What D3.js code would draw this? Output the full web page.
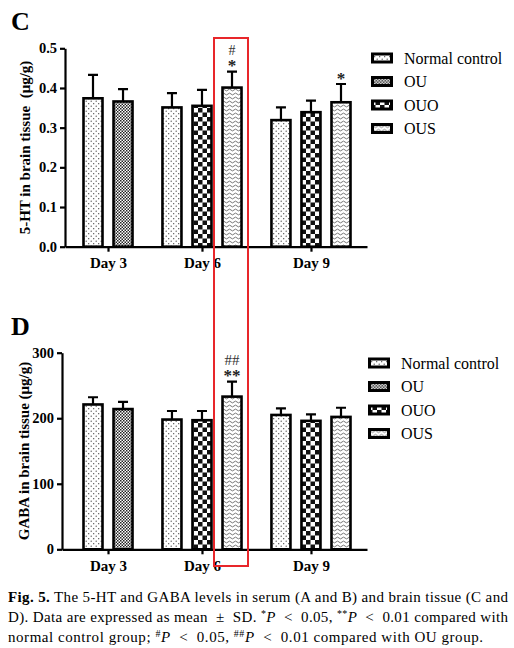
<!DOCTYPE html>
<html lang="en">
<head>
<meta charset="UTF-8">
<title>Fig. 5</title>
<script src="https://cdn.jsdelivr.net/npm/d3@7"></script>
<style>
  body { margin: 0; background: #fff; }
  text { font-family: "Liberation Serif", "Times New Roman", serif; }
</style>
</head>
<body>
<svg width="514" height="648"></svg>
<script>
// data
var groups    = ["Normal control", "OU", "OUO", "OUS"];
var days      = ["Day 3", "Day 6", "Day 9"];
var barDays   = ["Day 3", "Day 3", "Day 6", "Day 6", "Day 6", "Day 9", "Day 9", "Day 9"];
var barGroups = ["Normal control", "OU", "Normal control", "OUO", "OUS", "Normal control", "OUO", "OUS"];

var htMean = [0.374, 0.366, 0.351, 0.355, 0.401, 0.319, 0.339, 0.364];
var htSD   = [0.059, 0.031, 0.036, 0.040, 0.040, 0.032, 0.029, 0.046];
var htStar = ["", "", "", "", "*", "", "", "*"];
var htHash = ["", "", "", "", "#", "", "", ""];
var htTicks = [0, 0.1, 0.2, 0.3, 0.4, 0.5];

var gabaMean = [221, 214, 198, 197, 233, 205, 196, 202];
var gabaSD   = [11, 11, 13, 14, 23, 10, 10, 14];
var gabaStar = ["", "", "", "", "**", "", "", ""];
var gabaHash = ["", "", "", "", "##", "", "", ""];
var gabaTicks = [0, 100, 200, 300];

var svg = d3.select("svg");
var defs = svg.append("defs");

// fill patterns
var pNC = defs.append("pattern").attr("id", "pNC").attr("patternUnits", "userSpaceOnUse")
    .attr("width", 5).attr("height", 5);
pNC.append("rect").attr("width", 5).attr("height", 5).attr("fill", "#fff");
pNC.append("circle").attr("cx", 1.2).attr("cy", 1.2).attr("r", 0.65).attr("fill", "#444");
pNC.append("circle").attr("cx", 3.7).attr("cy", 3.7).attr("r", 0.65).attr("fill", "#444");

var pOU = defs.append("pattern").attr("id", "pOU").attr("patternUnits", "userSpaceOnUse")
    .attr("width", 3).attr("height", 3);
pOU.append("rect").attr("width", 3).attr("height", 3).attr("fill", "#fff");
pOU.append("rect").attr("width", 1.5).attr("height", 1.5).attr("fill", "#222");
pOU.append("rect").attr("x", 1.5).attr("y", 1.5).attr("width", 1.5).attr("height", 1.5).attr("fill", "#222");

var pOUO = defs.append("pattern").attr("id", "pOUO").attr("patternUnits", "userSpaceOnUse")
    .attr("width", 9).attr("height", 9);
pOUO.append("rect").attr("width", 9).attr("height", 9).attr("fill", "#fff");
pOUO.append("rect").attr("width", 4.5).attr("height", 4.5).attr("fill", "#111");
pOUO.append("rect").attr("x", 4.5).attr("y", 4.5).attr("width", 4.5).attr("height", 4.5).attr("fill", "#111");

var pOUS = defs.append("pattern").attr("id", "pOUS").attr("patternUnits", "userSpaceOnUse")
    .attr("width", 6).attr("height", 4);
pOUS.append("rect").attr("width", 6).attr("height", 4).attr("fill", "#fff");
pOUS.append("path").attr("d", "M0,2 q1.5,-1.8 3,0 t3,0").attr("fill", "none")
    .attr("stroke", "#666").attr("stroke-width", 0.9);

var fillOf = d3.scaleOrdinal().domain(groups).range(["url(#pNC)", "url(#pOU)", "url(#pOUO)", "url(#pOUS)"]);

// slot position of each bar: consecutive inside a day, a gap between days
var gap = 0.63;
var slots = [];
var s = 0;
barDays.forEach(function(d, i) {
    if (i > 0) s += (d === barDays[i - 1]) ? 1 : 1 + gap;
    slots.push(s);
});
var dayCenter = days.map(function(d) {
    var ss = slots.filter(function(v, i) { return barDays[i] === d; });
    return (d3.min(ss) + d3.max(ss)) / 2;
});

var x = d3.scaleLinear().domain([0, slots[slots.length - 1]]).range([93, 341]);
var barW = 19;

function drawChart(cfg) {
    var g = svg.append("g");
    var y = d3.scaleLinear().domain(cfg.domain).range([cfg.bottom, cfg.top]);
    var xa = d3.scaleLinear().domain([x.invert(cfg.left), x.invert(367)]).range([cfg.left, 367]);

    // bars
    g.selectAll(".bar").data(cfg.mean).enter().append("rect")
        .attr("x", function(d, i) { return x(slots[i]) - barW / 2; })
        .attr("y", function(d) { return y(d); })
        .attr("width", barW)
        .attr("height", function(d) { return y(0) - y(d); })
        .attr("fill", function(d, i) { return fillOf(barGroups[i]); })
        .attr("stroke", "#000").attr("stroke-width", 2.6);

    // error bars (upper only)
    g.selectAll(".err").data(cfg.mean).enter().append("path")
        .attr("d", function(d, i) {
            var cx = x(slots[i]), y0 = y(d), y1 = y(d + cfg.sd[i]);
            return "M" + cx + "," + y0 + "V" + y1 + "M" + (cx - 5) + "," + y1 + "H" + (cx + 5);
        })
        .attr("fill", "none").attr("stroke", "#000").attr("stroke-width", 2.2);

    // significance marks
    g.selectAll(".star").data(cfg.mean).enter().append("text")
        .attr("x", function(d, i) { return x(slots[i]); })
        .attr("y", function(d, i) { return y(d + cfg.sd[i]) - 0.5; })
        .attr("text-anchor", "middle").attr("font-size", 17).attr("font-weight", "bold").attr("fill", "#222")
        .text(function(d, i) { return cfg.star[i]; });
    g.selectAll(".hash").data(cfg.mean).enter().append("text")
        .attr("x", function(d, i) { return x(slots[i]); })
        .attr("y", function(d, i) { return y(d + cfg.sd[i]) - 17; })
        .attr("text-anchor", "middle").attr("font-size", cfg.hashSize).attr("fill", "#333")
        .text(function(d, i) { return cfg.hash[i]; });

    // axes
    var yAxis = g.append("g").attr("transform", "translate(" + cfg.left + ",0)")
        .call(d3.axisLeft(y).tickValues(cfg.ticks).tickFormat(cfg.fmt).tickSize(5).tickSizeOuter(0).tickPadding(3));
    var xAxis = g.append("g").attr("transform", "translate(0," + cfg.bottom + ")")
        .call(d3.axisBottom(xa).tickValues(dayCenter).tickFormat(function(d, i) { return days[i]; })
            .tickSize(5).tickSizeOuter(0).tickPadding(5));
    [yAxis, xAxis].forEach(function(a) {
        a.selectAll("path, line").attr("stroke", "#000").attr("stroke-width", 2.2);
        a.selectAll("text").attr("font-family", "Liberation Serif").attr("font-weight", "bold")
            .attr("font-size", 14.5).attr("fill", "#000");
    });
    xAxis.selectAll("text").attr("font-size", 15).attr("dy", "0.78em");

    // y title
    g.append("text")
        .attr("transform", "translate(" + cfg.titleX + "," + ((cfg.top + cfg.bottom) / 2) + ") rotate(-90)")
        .attr("text-anchor", "middle").attr("font-weight", "bold").attr("font-size", 15)
        .attr("xml:space", "preserve")
        .text(cfg.title);

    // panel letter
    g.append("text").attr("x", 11).attr("y", cfg.letterY)
        .attr("font-weight", "bold").attr("font-size", 26).text(cfg.letter);

    // legend
    var lg = g.selectAll(".lg").data(groups).enter().append("g")
        .attr("transform", function(d, i) { return "translate(" + cfg.legX + "," + (cfg.legY + i * 23.5) + ")"; });
    lg.append("rect").attr("x", 1.5).attr("y", -4).attr("width", 19).attr("height", 8)
        .attr("fill", function(d) { return fillOf(d); })
        .attr("stroke", "#000").attr("stroke-width", 3);
    lg.append("text").attr("x", 33).attr("y", 5.5).attr("font-size", 16).text(function(d) { return d; });
}

drawChart({
    mean: htMean, sd: htSD, star: htStar, hash: htHash, hashSize: 14,
    domain: [0, 0.5], ticks: htTicks, fmt: d3.format(".1f"),
    top: 48.3, bottom: 246.7, left: 65,
    title: "5-HT in brain tissue  (\u03bcg/g)", titleX: 30, letter: "C", letterY: 30,
    legX: 371, legY: 58
});
drawChart({
    mean: gabaMean, sd: gabaSD, star: gabaStar, hash: gabaHash, hashSize: 15,
    domain: [0, 300], ticks: gabaTicks, fmt: d3.format("d"),
    top: 352.7, bottom: 549.3, left: 62,
    title: "GABA in brain tissue (\u03bcg/g)", titleX: 29, letter: "D", letterY: 335,
    legX: 368, legY: 363
});

// highlight box
svg.append("rect").attr("x", 214).attr("y", 38).attr("width", 34).attr("height", 528)
    .attr("fill", "none").attr("stroke", "#e8262a").attr("stroke-width", 2);

// caption
var cap = svg.append("g").attr("font-size", 15);
var l1 = cap.append("text").attr("x", 8).attr("y", 602).attr("textLength", 500).attr("lengthAdjust", "spacing");
l1.append("tspan").attr("font-weight", "bold").text("Fig. 5.");
l1.append("tspan").text(" The 5-HT and GABA levels in serum (A and B) and brain tissue (C and");

var l2 = cap.append("text").attr("x", 8).attr("y", 622).attr("textLength", 500).attr("lengthAdjust", "spacing")
    .attr("xml:space", "preserve");
l2.append("tspan").text("D). Data are expressed as mean  \u00b1  SD. ");
l2.append("tspan").attr("font-size", 10).attr("dy", -5).text("*");
l2.append("tspan").attr("font-style", "italic").attr("dy", 5).text("P");
l2.append("tspan").text("  <  0.05, ");
l2.append("tspan").attr("font-size", 10).attr("dy", -5).text("**");
l2.append("tspan").attr("font-style", "italic").attr("dy", 5).text("P");
l2.append("tspan").text("  <  0.01 compared with");

var l3 = cap.append("text").attr("x", 8).attr("y", 641.5).attr("xml:space", "preserve")
    .attr("textLength", 475).attr("lengthAdjust", "spacing");
l3.append("tspan").text("normal control group; ");
l3.append("tspan").attr("font-size", 10).attr("dy", -5).text("#");
l3.append("tspan").attr("font-style", "italic").attr("dy", 5).text("P");
l3.append("tspan").text("  <  0.05, ");
l3.append("tspan").attr("font-size", 10).attr("dy", -5).text("##");
l3.append("tspan").attr("font-style", "italic").attr("dy", 5).text("P");
l3.append("tspan").text("  <  0.01 compared with OU group.");
</script>
</body>
</html>
